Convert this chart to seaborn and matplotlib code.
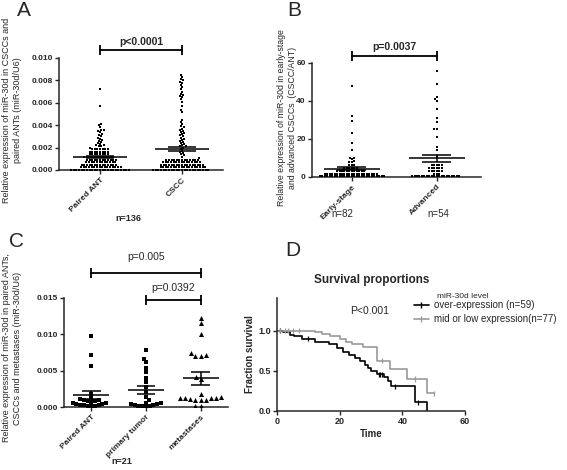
import numpy as np
import pandas as pd
import matplotlib
matplotlib.use("Agg")
import matplotlib.pyplot as plt
from matplotlib.lines import Line2D
import seaborn as sns

# ---- data ----
# panel A (x1e-4), n=136 per group; Prism stacks the low values in rows
ant_a = ([72, 57, 41, 40, 38, 36, 36, 35, 34, 32, 31,
          30, 29, 28, 27, 26, 25, 24, 23, 22, 22, 21, 21, 20]
         + [19] * 7 + [16.5] * 8 + [14] * 8 + [11.5] * 12 + [9.2] * 12
         + [7] * 12 + [4.8] * 14 + [2.5] * 16 + [0.3] * 23)
cscc_a = ([85, 83, 81, 80, 79, 78, 76, 74, 72, 70, 68, 67, 66, 65, 63, 61,
           57, 54, 52,
           45, 43, 41, 39, 38, 37, 36, 35, 34, 33, 32, 31, 30,
           29, 28, 27, 26, 25, 24, 23, 22, 21, 21, 20,
           19, 17, 16, 15, 14, 13, 12, 11]
          + [9.2] * 13 + [7] * 15 + [4.8] * 17 + [2.5] * 18 + [0.3] * 22)
cats_a = ["Paired ANT", "CSCC"]

# panel B (CSCC/ANT ratio), n=82 and n=54
early_b = ([48, 32, 29.5, 23, 18, 14, 10, 10, 9.5, 8.5, 8, 8]
           + [6.3] * 3 + [4.8] * 6 + [3.3] * 12 + [1.8] * 22 + [0.3] * 27)
adv_b = ([56, 49, 42, 41, 40, 36, 31, 29, 25, 25, 21, 16, 14, 11]
         + [6.3] * 5 + [4.8] * 6 + [3.3] * 6 + [1.8] * 3 + [0.3] * 20)
cats_b = ["Early-stage", "Advanced"]

# panel C (x1e-4), n=21
ant_c = [98, 72, 57, 18, 13, 11, 10, 9, 8, 8, 7, 5, 5, 4, 4, 3, 3, 3, 2, 2, 1]
tumor_c = [79, 66, 62, 53, 48, 40, 35, 28, 20, 14, 9, 6, 5, 4, 4, 3, 3, 2, 2, 2, 1]
meta_c = [123, 115, 101, 74, 72, 70, 70, 41, 39, 18, 14, 13, 13, 12, 11, 10, 10, 9, 13, 1, 1]
cats_c = ["Paired ANT", "primary tumor", "metastases"]

# panel D survival steps
t_over = [0, 2, 4, 5.5, 8, 12, 16.5, 19, 21, 23, 25, 26.5, 28, 29, 30, 32, 34, 35.5, 36.5, 44, 48]
s_over = [1.0, 0.98, 0.95, 0.93, 0.90, 0.86, 0.83, 0.78, 0.74, 0.70, 0.66, 0.62, 0.58, 0.54,
          0.50, 0.46, 0.42, 0.37, 0.31, 0.11, 0.0]
cens_t_over = [1, 10, 32.5, 33, 33.6, 37.5, 45]
t_low = [0, 12, 14.5, 17, 20, 22, 24, 27.5, 31.8, 36, 41.5, 48, 50]
s_low = [1.0, 0.98, 0.96, 0.93, 0.90, 0.86, 0.83, 0.80, 0.63, 0.52, 0.40, 0.22, 0.22]
cens_t_low = [1, 2.5, 3.5, 5, 7, 33.5, 44, 50]

W, H = 567, 470


def rect(l, t, r, b):
    return [l / W, 1 - b / H, (r - l) / W, (b - t) / H]


def fpos(x, y):
    return x / W, 1 - y / H


sns.set_style("ticks")
plt.rcParams["font.family"] = ["Liberation Sans", "DejaVu Sans"]
plt.rcParams["axes.linewidth"] = 1.1

fig = plt.figure(figsize=(W / 100, H / 100), dpi=100)


def style_axis(ax, bold_ticks=True):
    sns.despine(ax=ax)
    ax.tick_params(direction="out", length=3, width=1, labelsize=6, pad=1.5)
    if bold_ticks:
        for lab in ax.get_yticklabels() + ax.get_xticklabels():
            lab.set_fontweight("bold")


def mean_sem(ax, groups):
    for i, vals in enumerate(groups):
        v = np.asarray(vals, dtype=float)
        m = v.mean()
        se = v.std(ddof=1) / np.sqrt(len(v))
        ax.hlines(m, i - 0.33, i + 0.33, color="black", lw=1.1, zorder=4)
        ax.hlines([m - se, m + se], i - 0.17, i + 0.17, color="black", lw=1.1, zorder=4)
        ax.vlines(i, m - se, m + se, color="black", lw=1.1, zorder=4)


def bracket(ax, x0, x1, y, label, ty, bold=True, fs=7.5):
    ax.plot([x0, x1], [y, y], color="black", lw=1.3, marker="|", ms=7, mew=1.3, clip_on=False)
    ax.text((x0 + x1) / 2, ty, label, ha="center", va="center", fontsize=fs,
            fontweight="bold" if bold else "normal", clip_on=False)


def rot_labels(ax, cats, bold=True, fs=6.5):
    ax.set_xticks(range(len(cats)))
    ax.set_xticklabels(cats, rotation=45, ha="right", rotation_mode="anchor",
                       fontsize=fs, fontweight="bold" if bold else "normal")


# ---- panel A ----
axA = fig.add_axes(rect(59, 58, 223, 170))
dfA = pd.DataFrame({"group": np.repeat(cats_a, [len(ant_a), len(cscc_a)]),
                    "value": np.concatenate([ant_a, cscc_a]) * 1e-4})
axA.set_ylim(0, 0.010)
sns.swarmplot(data=dfA, x="group", y="value", order=cats_a, ax=axA, color="black",
              size=1.8, marker="s", linewidth=0, warn_thresh=1)
mean_sem(axA, [np.array(ant_a) * 1e-4, np.array(cscc_a) * 1e-4])
axA.set_xlim(-0.5, 1.5)
axA.set_ylim(0, 0.010)
axA.set_yticks([0, 0.002, 0.004, 0.006, 0.008, 0.010])
axA.set_yticklabels(["0.000", "0.002", "0.004", "0.006", "0.008", "0.010"])
axA.set_xlabel("")
axA.set_ylabel("")
rot_labels(axA, cats_a)
style_axis(axA)
bracket(axA, 0, 1, 0.0107, "p<0.0001", 0.01145)

# ---- panel B ----
axB = fig.add_axes(rect(312, 63, 481, 177))
dfB = pd.DataFrame({"group": np.repeat(cats_b, [len(early_b), len(adv_b)]),
                    "value": np.concatenate([early_b, adv_b])})
axB.set_ylim(0, 60)
sns.swarmplot(data=dfB, x="group", y="value", order=cats_b, ax=axB, color="black",
              size=1.7, marker="s", linewidth=0, warn_thresh=1)
mean_sem(axB, [early_b, adv_b])
axB.set_xlim(-0.47, 1.52)
axB.set_ylim(0, 60)
axB.set_yticks([0, 20, 40, 60])
axB.set_xlabel("")
axB.set_ylabel("")
rot_labels(axB, cats_b)
style_axis(axB)
bracket(axB, 0, 1, 63.7, "p=0.0037", 68.5)

# ---- panel C ----
axC = fig.add_axes(rect(64, 298, 228, 407))
axC.set_ylim(0, 0.015)
sns.swarmplot(x=["Paired ANT"] * len(ant_c), y=np.array(ant_c) * 1e-4, order=cats_c, ax=axC,
              color="black", size=2.6, marker="s", linewidth=0, warn_thresh=1)
sns.swarmplot(x=["primary tumor"] * len(tumor_c), y=np.array(tumor_c) * 1e-4, order=cats_c, ax=axC,
              color="black", size=2.6, marker="s", linewidth=0, warn_thresh=1)
sns.swarmplot(x=["metastases"] * len(meta_c), y=np.array(meta_c) * 1e-4, order=cats_c, ax=axC,
              color="black", size=3.6, marker="^", linewidth=0, warn_thresh=1)
mean_sem(axC, [np.array(g) * 1e-4 for g in (ant_c, tumor_c, meta_c)])
axC.set_xlim(-0.5, 2.5)
axC.set_ylim(0, 0.015)
axC.set_yticks([0, 0.005, 0.010, 0.015])
axC.set_yticklabels(["0.000", "0.005", "0.010", "0.015"])
axC.set_xlabel("")
axC.set_ylabel("")
rot_labels(axC, cats_c)
style_axis(axC)
bracket(axC, 0, 2, 0.0184, "p=0.005", 0.0206, bold=False, fs=7.5)
bracket(axC, 1, 2, 0.0147, "p=0.0392", 0.0164, bold=False, fs=7.5)

# ---- panel D ----
axD = fig.add_axes(rect(277, 298, 465, 411))
grp_over = "over-expression (n=59)"
grp_low = "mid or low expression(n=77)"
dfD = pd.DataFrame({"time": t_over + t_low, "surv": s_over + s_low,
                    "grp": [grp_over] * len(t_over) + [grp_low] * len(t_low)})
pal = {grp_over: "black", grp_low: "#9a9a9a"}
sns.lineplot(data=dfD, x="time", y="surv", hue="grp", palette=pal, ax=axD, estimator=None,
             drawstyle="steps-post", lw=1.2, legend=False)
cens_over = [s_over[np.searchsorted(t_over, c, side="right") - 1] for c in cens_t_over]
cens_low = [s_low[np.searchsorted(t_low, c, side="right") - 1] for c in cens_t_low]
dfC = pd.DataFrame({"time": cens_t_over + cens_t_low, "surv": cens_over + cens_low,
                    "grp": [grp_over] * len(cens_t_over) + [grp_low] * len(cens_t_low)})
sns.scatterplot(data=dfC, x="time", y="surv", hue="grp", palette=pal, ax=axD, marker="|",
                s=14, linewidth=0.9, legend=False, zorder=3)
axD.set_xlim(0, 60)
axD.set_ylim(0, 1.41)
axD.set_xticks([0, 20, 40, 60])
axD.set_yticks([0, 0.5, 1.0])
axD.set_yticklabels(["0.0", "0.5", "1.0"])
axD.set_xlabel("Time", fontsize=7, fontweight="bold", labelpad=2)
axD.set_ylabel("Fraction survival", fontsize=7, fontweight="bold", labelpad=2)
style_axis(axD)
axD.tick_params(labelsize=6.5)
fig.text(*fpos(372, 280), "Survival proportions", fontsize=8.5, fontweight="bold",
         ha="center", va="center")
handles = [Line2D([0], [0], color="black", lw=1.2, marker="|", ms=4),
           Line2D([0], [0], color="#9a9a9a", lw=1.2, marker="|", ms=4)]
axD.legend(handles, [grp_over, grp_low], loc="upper left", bbox_to_anchor=fpos(414, 300),
           bbox_transform=fig.transFigure, frameon=False, fontsize=7, handlelength=1.5,
           handletextpad=0.6, borderpad=0, borderaxespad=0, labelspacing=0.45)
fig.text(*fpos(437, 296), "miR-30d level", fontsize=6, ha="left", va="center")
fig.text(*fpos(370, 311), "P<0.001", fontsize=7.5, ha="center", va="center")

# ---- free text ----
fig.text(*fpos(12, 110), "Relative expression of miR-30d in CSCCs and\npaired ANTs (miR-30d/U6)",
         rotation=90, ha="center", va="center", fontsize=6.5, multialignment="center")
fig.text(*fpos(287, 118), "Relative expression of miR-30d in early-stage\nand advanced CSCCs  (CSCC/ANT)",
         rotation=90, ha="center", va="center", fontsize=6.3, multialignment="center")
fig.text(*fpos(12, 348), "Relative expression of miR-30d in paired ANTs,\nCSCCs and metastases (miR-30d/U6)",
         rotation=90, ha="center", va="center", fontsize=6.5, multialignment="center")
fig.text(*fpos(128, 219), "n=136", fontsize=6.5, fontweight="bold", ha="center", va="center")
fig.text(*fpos(342, 214), "n=82", fontsize=7, ha="center", va="center")
fig.text(*fpos(438, 214), "n=54", fontsize=7, ha="center", va="center")
fig.text(*fpos(122, 462), "n=21", fontsize=6.5, fontweight="bold", ha="center", va="center")
for letter, x, y in [("A", 24, 11), ("B", 294, 10), ("C", 16, 242), ("D", 293, 250)]:
    fig.text(*fpos(x, y), letter, fontsize=15, ha="center", va="center")

fig.savefig("out.png", dpi=100)
